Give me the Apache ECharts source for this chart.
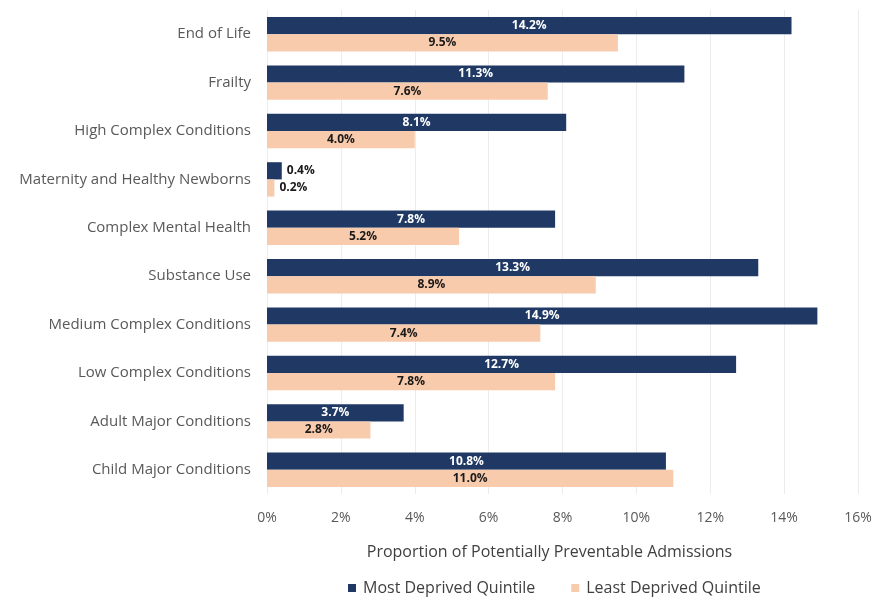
<!DOCTYPE html>
<html><head><meta charset="utf-8">
<script src="https://cdn.jsdelivr.net/npm/echarts@6/dist/echarts.min.js"></script>
<style>html,body{margin:0;padding:0;background:#fff}#c{width:877px;height:598px}</style>
</head><body><div id="c"></div>
<script>
const categories = ["End of Life","Frailty","High Complex Conditions","Maternity and Healthy Newborns","Complex Mental Health","Substance Use","Medium Complex Conditions","Low Complex Conditions","Adult Major Conditions","Child Major Conditions"];
const mostDeprived = [14.2,11.3,8.1,0.4,7.8,13.3,14.9,12.7,3.7,10.8];
const leastDeprived = [9.5,7.6,4.0,0.2,5.2,8.9,7.4,7.8,2.8,11.0];
const seriesNames = ["Most Deprived Quintile","Least Deprived Quintile"];
const xTicks = [0,2,4,6,8,10,12,14,16];

const font = "'Open Sans', 'Noto Sans', sans-serif";
function items(vals){
  return vals.map(v => v < 1 ? {value:v, label:{position:'right', color:'#1a1a1a'}} : v);
}
const chart = echarts.init(document.getElementById('c'));
chart.setOption({
  animation:false,
  textStyle:{fontFamily:font},
  grid:{left:267,right:19,top:10,bottom:104,containLabel:false},
  legend:{top:575,left:343,itemWidth:8,itemHeight:8,itemGap:36,icon:'rect',
    textStyle:{color:'#404040',fontSize:16,fontFamily:font,padding:[0,0,0,2]},data:seriesNames},
  xAxis:{type:'value',min:xTicks[0],max:xTicks[xTicks.length-1],interval:2,
    name:'Proportion of Potentially Preventable Admissions',nameLocation:'middle',nameGap:50,
    nameTextStyle:{color:'#404040',fontSize:16,fontFamily:font,padding:[0,26,0,0]},
    axisLabel:{formatter:v=>v+'%',color:'#595959',fontSize:14,margin:17,fontFamily:font},
    axisLine:{show:false},axisTick:{show:false},
    splitLine:{show:true,lineStyle:{color:'#ececec',width:1}}},
  yAxis:{type:'category',data:categories,inverse:true,
    axisLabel:{color:'#595959',fontSize:15,margin:16,fontFamily:font},
    axisLine:{show:false},axisTick:{show:false}},
  series:[
    {name:seriesNames[0],type:'bar',data:items(mostDeprived),barGap:'0%',barCategoryGap:'29%',
     itemStyle:{color:'#1f3864'},
     label:{show:true,position:'inside',color:'#ffffff',fontWeight:'bold',fontSize:12,fontFamily:font,formatter:p=>p.value.toFixed(1)+'%'}},
    {name:seriesNames[1],type:'bar',data:items(leastDeprived),
     itemStyle:{color:'#f8cbad'},
     label:{show:true,position:'inside',color:'#1a1a1a',fontWeight:'bold',fontSize:12,fontFamily:font,formatter:p=>p.value.toFixed(1)+'%'}}
  ]
});
</script></body></html>
